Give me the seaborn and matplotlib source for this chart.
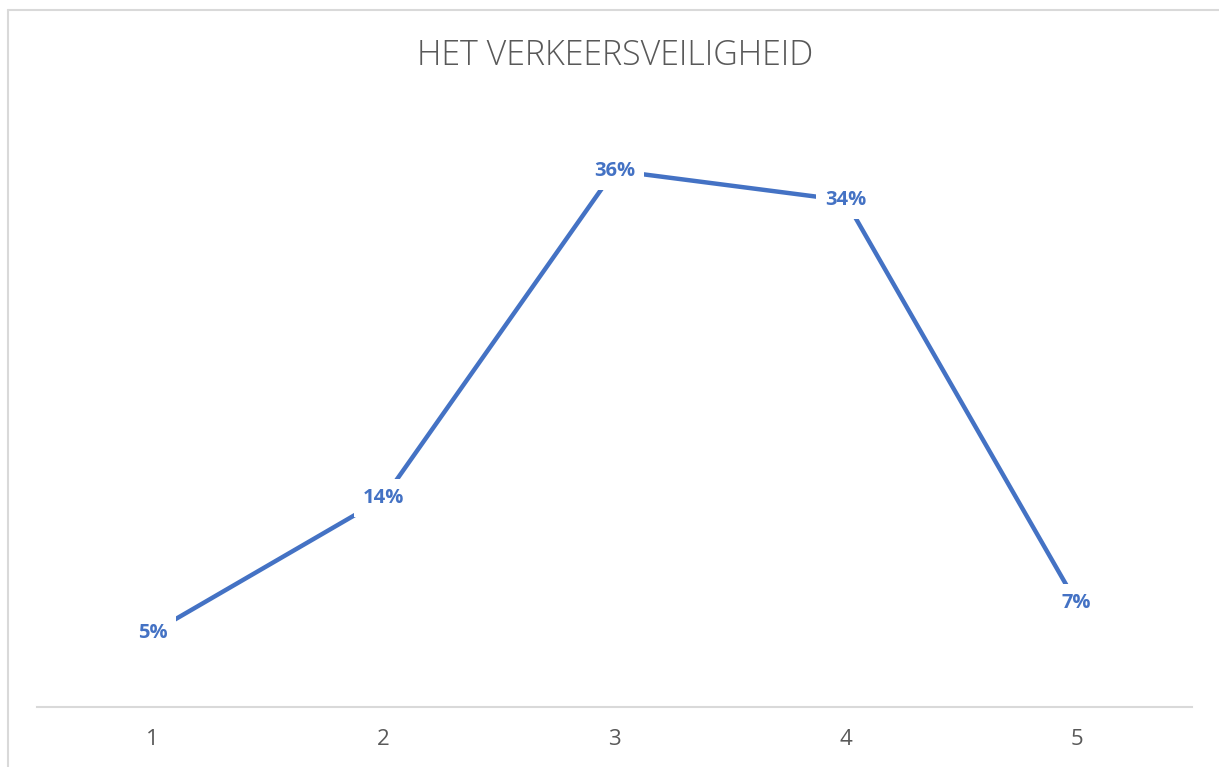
"""Line chart: HET VERKEERSVEILIGHEID."""

import matplotlib.pyplot as plt
import pandas as pd
import seaborn as sns
from matplotlib.lines import Line2D

categories = [1, 2, 3, 4, 5]
values = [5, 14, 36, 34, 7]
labels = ["5%", "14%", "36%", "34%", "7%"]
title = "HET VERKEERSVEILIGHEID"

BLUE = "#4472C4"
GREY = "#595959"

sns.set_style("white")
plt.rcParams["font.family"] = ["Open Sans", "DejaVu Sans"]

df = pd.DataFrame({"cat": categories, "val": values})

fig = plt.figure(figsize=(12.19, 7.67), dpi=100)
ax = fig.add_axes([37 / 1219, 60 / 767, 1155 / 1219, 596 / 767])

sns.lineplot(data=df, x="cat", y="val", ax=ax, color=BLUE, linewidth=3.2,
             solid_capstyle="butt")

for x, y, lab in zip(categories, values, labels):
    ax.text(x, y, lab, ha="center", va="center", fontsize=14.5, fontweight="bold",
            color=BLUE, bbox=dict(boxstyle="square,pad=0.45", fc="white", ec="none"))

ax.set_xlim(0.5, 5.5)
ax.set_ylim(0, 40)
ax.set_xticks(categories)
ax.set_xticklabels([str(c) for c in categories], fontsize=16, color=GREY)
ax.set_yticks([])
ax.set_xlabel("")
ax.set_ylabel("")
ax.tick_params(axis="x", length=0, pad=16)
for side in ["top", "right", "left"]:
    ax.spines[side].set_visible(False)
ax.spines["bottom"].set_color("#D9D9D9")
ax.spines["bottom"].set_linewidth(1.5)

fig.text(615 / 1219, 1 - 56 / 767, title, ha="center", va="center",
         fontsize=24.5, color=GREY, fontweight="light")

# chart frame
fig.add_artist(Line2D([8 / 1219, 1], [1 - 10 / 767, 1 - 10 / 767],
                      transform=fig.transFigure, color="#D9D9D9", linewidth=1.5))
fig.add_artist(Line2D([8 / 1219, 8 / 1219], [0, 1 - 10 / 767],
                      transform=fig.transFigure, color="#D9D9D9", linewidth=1.5))

fig.savefig("out.png", dpi=100)
plt.close(fig)
